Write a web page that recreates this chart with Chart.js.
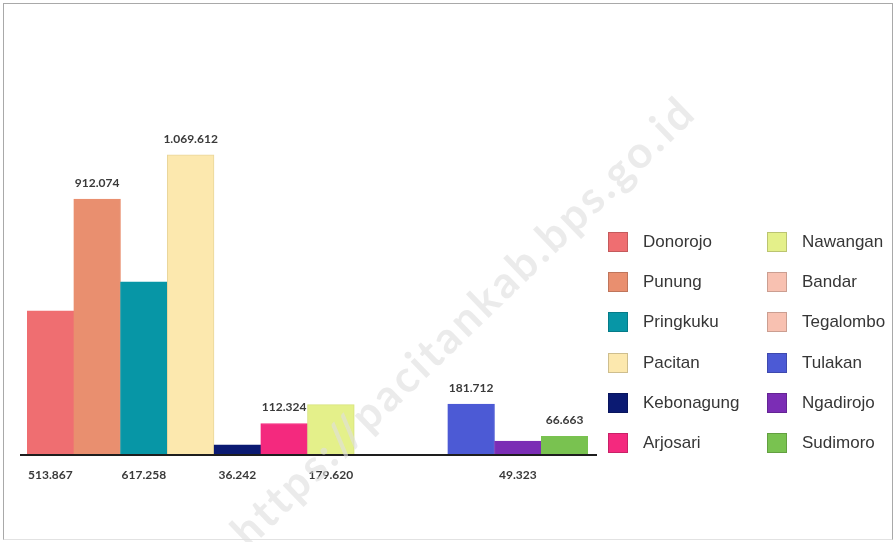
<!DOCTYPE html>
<html>
<head>
<meta charset="utf-8">
<script src="https://cdn.jsdelivr.net/npm/chart.js@4.4.1/dist/chart.umd.min.js"></script>
<style>
    html, body { margin: 0; padding: 0; background: #fff; }
    #wrap { position: relative; width: 896px; height: 542px; overflow: hidden; }
    #chart { position: absolute; left: 0; top: 0; }
    .frame {
        position: absolute; left: 3px; top: 3px; width: 888px; height: 535px;
        border: 1px solid #a9a9a9; border-bottom-color: #e2e2e2;
    }
    .legend { position: absolute; left: 608px; top: 231px; font-family: "Liberation Sans", Arial, sans-serif; }
    .legend-item { position: absolute; display: flex; align-items: center; height: 22px; white-space: nowrap; }
    .legend-box { width: 20px; height: 20px; box-sizing: border-box; border: 1px solid rgba(0,0,0,0.18); }
    .legend-text { margin-left: 15px; font-size: 17px; color: #363636; }
    .watermark {
        position: absolute; left: 462px; top: 320px;
        transform: translate(-50%, -50%) rotate(-44deg);
        font-family: Lato, "Noto Sans", sans-serif; font-weight: 700; font-size: 44px;
        letter-spacing: 3px;
        color: rgba(222,222,222,0.62); white-space: nowrap; pointer-events: none;
    }
</style>
</head>
<body>
<div id="wrap">
    <canvas id="chart" width="896" height="542"></canvas>
    <div class="frame"></div>
    <div class="legend" id="legend"></div>
    <div class="watermark">https://pacitankab.bps.go.id</div>
</div>
<script>
// Data per kecamatan
const districts = ['Donorojo', 'Punung', 'Pringkuku', 'Pacitan', 'Kebonagung', 'Arjosari',
    'Nawangan', 'Bandar', 'Tegalombo', 'Tulakan', 'Ngadirojo', 'Sudimoro'];
const production = [513867, 912074, 617258, 1069612, 36242, 112324, 179620, null, null, 181712, 49323, 66663];
const barColors = ['#EF6E71', '#E98F6F', '#0796A6', '#FCE8AE', '#0B1A72', '#F4297E',
    '#E4F08A', '#F8C1B1', '#F8C1B1', '#4C5AD5', '#7B2DB5', '#79C250'];
const barBorders = ['#EF6E71', '#E98F6F', '#0796A6', '#E9D59A', '#0B1A72', '#F4297E',
    '#D6E27C', '#E8B0A0', '#E8B0A0', '#4C5AD5', '#7B2DB5', '#79C250'];
const labelSide = ['below', 'above', 'below', 'above', 'below', 'above',
    'below', null, null, 'above', 'below', 'above'];

const formatNum = v => String(v).replace(/\B(?=(\d{3})+(?!\d))/g, '.');

// Legend: two columns of six
const legendEl = document.getElementById('legend');
districts.forEach((name, i) => {
    const col = Math.floor(i / 6), row = i % 6;
    const item = document.createElement('div');
    item.className = 'legend-item';
    item.style.left = (col * 159) + 'px';
    item.style.top = (row * 40.2) + 'px';
    item.innerHTML = `<div class="legend-box" style="background:${barColors[i]}"></div><span class="legend-text">${name}</span>`;
    legendEl.appendChild(item);
});

const baseline = {
    id: 'baseline',
    afterDatasetsDraw(chart) {
        const { ctx, chartArea } = chart;
        ctx.save();
        ctx.strokeStyle = '#1e1e1e';
        ctx.lineWidth = 2;
        ctx.beginPath();
        ctx.moveTo(chartArea.left - 7, chartArea.bottom);
        ctx.lineTo(chartArea.right + 9, chartArea.bottom);
        ctx.stroke();
        ctx.restore();
    }
};

const valueLabels = {
    id: 'valueLabels',
    afterDatasetsDraw(chart) {
        const { ctx, chartArea } = chart;
        const meta = chart.getDatasetMeta(0);
        ctx.save();
        ctx.font = '700 12px Lato, "Noto Sans", sans-serif';
        ctx.fillStyle = '#3a3a3a';
        ctx.textAlign = 'center';
        ctx.textBaseline = 'middle';
        meta.data.forEach((bar, i) => {
            const v = production[i];
            if (v == null) return;
            const y = labelSide[i] === 'above' ? bar.y - 16 : chartArea.bottom + 20;
            ctx.fillText(formatNum(v), bar.x, y);
        });
        ctx.restore();
    }
};

new Chart(document.getElementById('chart'), {
    type: 'bar',
    data: {
        labels: districts,
        datasets: [{
            data: production,
            backgroundColor: barColors,
            borderColor: barBorders,
            borderWidth: 1,
            categoryPercentage: 1,
            barPercentage: 1
        }]
    },
    options: {
        responsive: false,
        animation: false,
        layout: { padding: { top: 62, bottom: 87, left: 27, right: 308 } },
        plugins: { legend: { display: false }, tooltip: { enabled: false } },
        scales: {
            x: { display: false },
            y: { display: false, min: 0, max: 1400000 }
        }
    },
    plugins: [baseline, valueLabels]
});
</script>
</body>
</html>
